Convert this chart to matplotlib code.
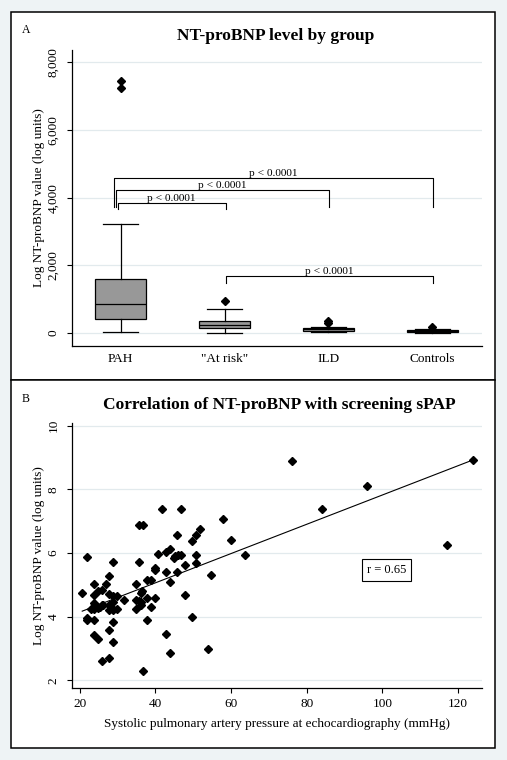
import numpy as np
import matplotlib
matplotlib.use('Agg')
import matplotlib.pyplot as plt
from matplotlib.patches import Rectangle

plt.rcParams['font.family'] = ['Liberation Serif', 'DejaVu Serif']

# Panel A: box plot summaries
groups = ['PAH', '"At risk"', 'ILD', 'Controls']
box_q1 = [405, 138, 70, 35]
box_med = [857, 236, 110, 60]
box_q3 = [1586, 363, 150, 95]
whisker_lo = [20, 0, 40, 10]
whisker_hi = [3211, 700, 180, 120]
outliers = [[7250, 7436], [936], [310, 350], [190]]

# significance brackets (group index pairs), bracket height and leg end
comparisons = [(0, 1), (0, 2), (0, 3), (1, 3)]
bracket_top = [3832, 4213, 4570, 1675]
bracket_foot = [3655, 3714, 3714, 1486]
p_labels = ['p < 0.0001', 'p < 0.0001', 'p < 0.0001', 'p < 0.0001']

# Panel B: screening sPAP vs log NT-proBNP
spap = [20.7, 21.9, 21.9, 22.0, 22.9, 23.7, 23.7, 23.7, 23.7, 23.7,
        23.7, 24.8, 24.8, 24.8, 25.3, 25.8, 25.8, 25.8, 26.3, 26.9,
        27.7, 27.7, 27.7, 27.7, 27.7, 27.7, 28.8, 28.8, 28.8, 28.8,
        28.8, 28.8, 28.2, 29.8, 29.8, 31.8, 34.9, 34.9, 34.9, 35.8,
        35.8, 36.8, 35.8, 36.1, 36.1, 36.3, 36.6, 36.8, 37.8, 37.8,
        37.8, 38.8, 38.8, 40.0, 40.0, 40.0, 40.7, 41.9, 42.9, 42.9,
        42.9, 43.9, 43.9, 43.9, 44.9, 45.3, 45.8, 45.8, 45.9, 46.9,
        46.9, 47.9, 47.9, 49.8, 49.8, 50.8, 50.8, 50.8, 51.9, 54.0,
        54.8, 58.0, 59.9, 63.8, 76.1, 84.0, 96.0, 117.1, 124.0]
log_bnp = [4.74, 5.86, 3.95, 3.90, 4.23, 5.03, 4.67, 4.42, 4.24, 3.89,
           3.42, 3.29, 4.80, 4.26, 4.30, 4.84, 4.37, 2.61, 4.35, 5.02,
           5.27, 4.70, 4.38, 4.22, 3.58, 2.70, 5.70, 4.66, 4.45, 4.22,
           3.83, 3.19, 4.30, 4.64, 4.25, 4.52, 5.02, 4.52, 4.23, 5.72,
           6.87, 6.87, 4.50, 4.45, 4.38, 4.75, 4.82, 2.29, 5.14, 4.58,
           3.89, 5.16, 4.29, 5.52, 5.46, 4.58, 5.98, 7.39, 5.39, 6.04,
           3.45, 6.11, 5.08, 2.85, 5.84, 5.90, 6.55, 5.39, 5.95, 7.39,
           5.95, 5.61, 4.67, 4.00, 6.36, 6.56, 5.92, 5.68, 6.76, 2.98,
           5.30, 7.08, 6.40, 5.92, 8.90, 7.39, 8.10, 6.25, 8.92]
fit_intercept = 3.22
fit_slope = 0.046
r_value = 0.65

W, H = 507, 760
bg = '#eef3f5'
grid_col = '#e2eaed'

fig = plt.figure(figsize=(W / 100, H / 100), dpi=100, facecolor=bg)

# white panels with black frame (they share the middle line)
for top, bottom in [(12, 380), (380, 748)]:
    fig.add_artist(Rectangle((11 / W, 1 - bottom / H), (495 - 11) / W, (bottom - top) / H,
                             transform=fig.transFigure, facecolor='white',
                             edgecolor='black', linewidth=1.1, zorder=-1))


def style_axes(ax):
    ax.set_facecolor('white')
    ax.spines['top'].set_visible(False)
    ax.spines['right'].set_visible(False)
    ax.spines['left'].set_linewidth(0.9)
    ax.spines['bottom'].set_linewidth(0.9)
    ax.grid(axis='y', color=grid_col, linewidth=0.9)
    ax.set_axisbelow(True)
    ax.tick_params(axis='y', length=3.6, width=0.8, pad=5.5, labelsize=9.5, labelrotation=90)
    for lbl in ax.get_yticklabels():
        lbl.set_va('center')


# ---------- Panel A ----------
ax1 = fig.add_axes([72 / W, 1 - 346 / H, (482 - 72) / W, (346 - 50) / H])
positions = np.arange(1, len(groups) + 1)
stats = []
for i in range(len(groups)):
    stats.append(dict(q1=box_q1[i], med=box_med[i], q3=box_q3[i],
                      whislo=whisker_lo[i], whishi=whisker_hi[i],
                      fliers=outliers[i]))
ax1.bxp(stats, positions=positions, widths=0.49, capwidths=0.34, patch_artist=True,
        boxprops=dict(facecolor='#989898', edgecolor='black', linewidth=0.9),
        medianprops=dict(color='black', linewidth=0.9),
        whiskerprops=dict(color='black', linewidth=0.9),
        capprops=dict(color='black', linewidth=0.9),
        flierprops=dict(marker='D', markerfacecolor='black', markeredgecolor='black',
                        markersize=3.8))

ax1.set_xlim(0.53, 4.48)
ax1.set_ylim(-384, 8360)
ax1.set_yticks([0, 2000, 4000, 6000, 8000])
ax1.set_yticklabels([f'{v:,}' for v in [0, 2000, 4000, 6000, 8000]])
ax1.set_xticks(positions)
ax1.set_xticklabels(groups)
ax1.tick_params(axis='x', length=0, pad=5, labelsize=9.5)
style_axes(ax1)
ax1.set_ylabel('Log NT-proBNP value (log units)', fontsize=9.5, labelpad=1.5)

pah_count = 0
for (g1, g2), ytop, yfoot, lab in zip(comparisons, bracket_top, bracket_foot, p_labels):
    if g1 == 0:
        x1 = positions[g1] - 0.03 - 0.02 * pah_count
        pah_count += 1
    else:
        x1 = positions[g1] + 0.01
    x2 = positions[g2] + 0.01
    ax1.plot([x1, x1, x2, x2], [yfoot, ytop, ytop, yfoot], color='black', linewidth=0.8)
    ax1.annotate(lab, xy=((x1 + x2) / 2, ytop), xytext=(0, 0.3), textcoords='offset points',
                 ha='center', va='bottom', fontsize=8.2)

fig.text(276 / W, 1 - 36 / H, 'NT-proBNP level by group', ha='center', va='center',
         fontsize=12.5, fontweight='bold')
fig.text(22 / W, 1 - 30 / H, 'A', ha='left', va='center', fontsize=8.5)

# ---------- Panel B ----------
ax2 = fig.add_axes([72 / W, 1 - 688.3 / H, (482 - 72) / W, (688.3 - 423) / H])
ax2.plot(spap, log_bnp, linestyle='none', marker='D', markersize=3.8, color='black')
xs = np.array([min(spap), max(spap)])
ax2.plot(xs, fit_intercept + fit_slope * xs, color='black', linewidth=0.8)

ax2.set_xlim(18, 126.3)
ax2.set_ylim(1.75, 10.08)
ax2.set_xticks([20, 40, 60, 80, 100, 120])
ax2.set_yticks([2, 4, 6, 8, 10])
ax2.tick_params(axis='x', length=3.6, width=0.8, pad=3.5, labelsize=9.5)
style_axes(ax2)
ax2.set_ylabel('Log NT-proBNP value (log units)', fontsize=9.5, labelpad=1.5)
ax2.set_xlabel('Systolic pulmonary artery pressure at echocardiography (mmHg)',
               fontsize=9.5, labelpad=6)
ax2.text(95.8, 5.47, f'r = {r_value:.2f}', ha='left', va='center', fontsize=9,
         bbox=dict(boxstyle='square,pad=0.4', facecolor='white', edgecolor='black',
                   linewidth=0.8))

fig.text(279 / W, 1 - 405 / H, 'Correlation of NT-proBNP with screening sPAP',
         ha='center', va='center', fontsize=12.5, fontweight='bold')
fig.text(22 / W, 1 - 399 / H, 'B', ha='left', va='center', fontsize=8.5)

fig.savefig('out.png', dpi=100, facecolor=bg)
